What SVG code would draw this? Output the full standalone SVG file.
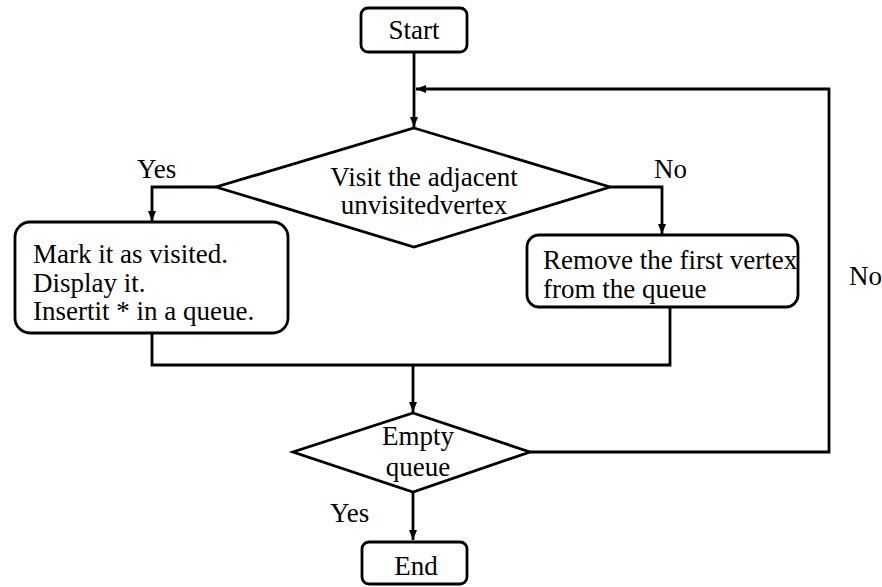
<svg xmlns="http://www.w3.org/2000/svg" width="882" height="587" viewBox="0 0 882 587">
<style>
.s{fill:#fff;stroke:#000;stroke-width:2.8}
.c{fill:none;stroke:#000;stroke-width:2.8}
text{font-family:"Liberation Serif","Times New Roman",serif;font-size:27px;fill:#000}
.m{text-anchor:middle}
</style>
<defs>
<marker id="a" viewBox="0 0 10 10" refX="10" refY="5" markerWidth="10" markerHeight="10" markerUnits="userSpaceOnUse" orient="auto">
<path d="M0,1 L10,5 L0,9 z" fill="#000"/>
</marker>
</defs>
<rect width="882" height="587" fill="#fff"/>
<g id="connectors">
<path class="c" d="M414,52 V127" marker-end="url(#a)"/>
<path class="c" d="M530,452 H829 V89 H416" marker-end="url(#a)"/>
<path class="c" d="M216,187 H152 V221" marker-end="url(#a)"/>
<path class="c" d="M610,187 H662 V234" marker-end="url(#a)"/>
<path class="c" d="M152,333 V365 H670 V307"/>
<path class="c" d="M413,365 V412" marker-end="url(#a)"/>
<path class="c" d="M413,492 V540" marker-end="url(#a)"/>
<text x="137" y="178">Yes</text>
<text x="654" y="178">No</text>
<text x="849" y="285">No</text>
<text x="330" y="522">Yes</text>
</g>
<g id="start">
<rect class="s" x="361" y="8" width="106" height="44" rx="7"/>
<text class="m" x="414" y="39">Start</text>
</g>
<g id="visit">
<polygon class="s" points="414,128 610,187 414,247 216,187"/>
<text class="m" x="424" y="186">Visit the adjacent</text>
<text class="m" x="424" y="214">unvisitedvertex</text>
</g>
<g id="mark">
<rect class="s" x="15" y="222" width="273" height="111" rx="15"/>
<text x="33" y="263">Mark it as visited.</text>
<text x="33" y="292">Display it.</text>
<text x="33" y="320">Insertit * in a queue.</text>
</g>
<g id="remove">
<rect class="s" x="527" y="235" width="271" height="72" rx="12"/>
<text x="543" y="269">Remove the first vertex</text>
<text x="543" y="298">from the queue</text>
</g>
<g id="empty">
<polygon class="s" points="413,413 530,452 413,492 293,452"/>
<text class="m" x="418" y="445">Empty</text>
<text class="m" x="418" y="476">queue</text>
</g>
<g id="end">
<rect class="s" x="362" y="542" width="105" height="42" rx="7"/>
<text class="m" x="416" y="575">End</text>
</g>
</svg>
